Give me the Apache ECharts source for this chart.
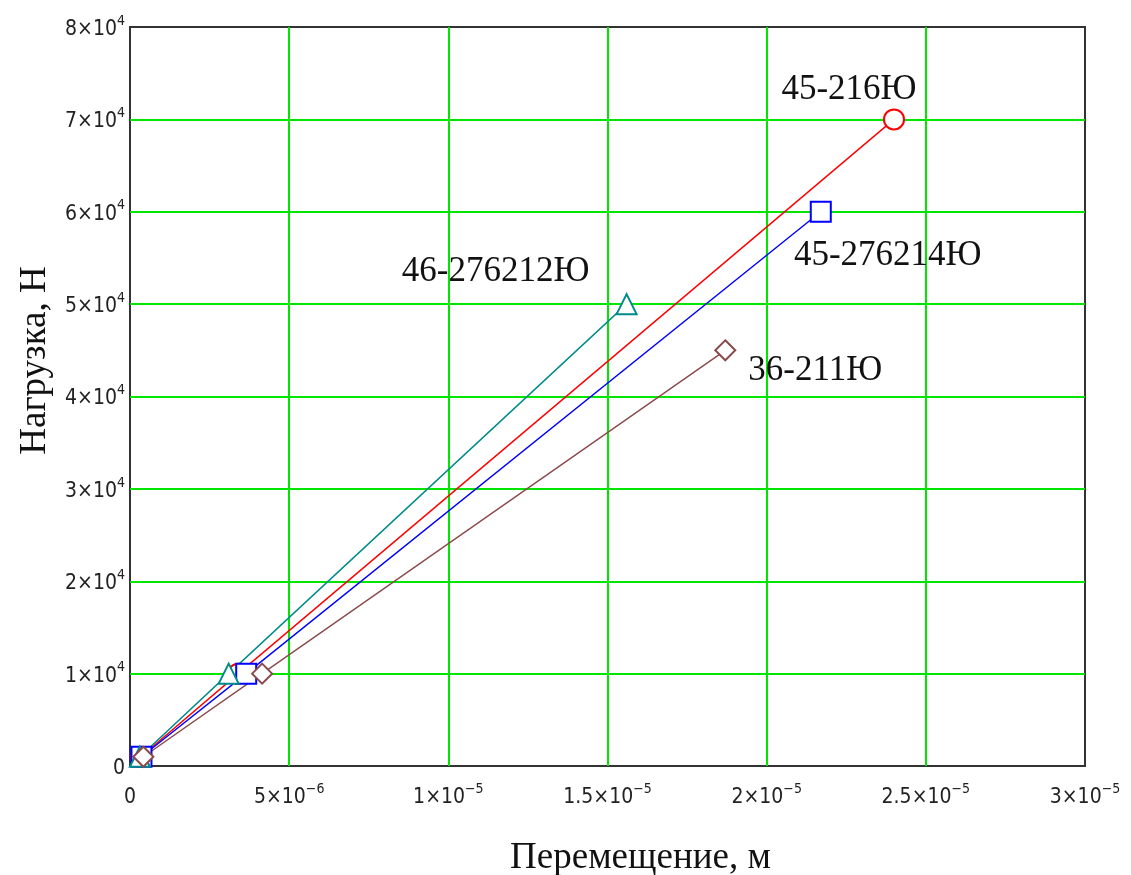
<!DOCTYPE html>
<html>
<head>
<meta charset="utf-8">
<script src="https://cdn.jsdelivr.net/npm/echarts@6/dist/echarts.min.js"></script>
<style>
  html, body { margin: 0; padding: 0; background: #fff; }
  #main { width: 1131px; height: 875px; }
</style>
</head>
<body>
<div id="main"></div>
<script>
const chartDom = document.getElementById('main');
const myChart = echarts.init(chartDom);

// Перемещение, м  /  Нагрузка, Н
const names = ['45-216Ю', '45-276214Ю', '46-276212Ю', '36-211Ю'];
const load = [1000, 10000];
const loadEnd = [70000, 60000, 50000, 45000];
const disp216 = [3.4e-7, 3.4e-6, 2.4e-5];
const disp276214 = [3.6e-7, 3.65e-6, 2.17e-5];
const disp276212 = [3.1e-7, 3.1e-6, 1.56e-5];
const disp211 = [4.2e-7, 4.15e-6, 1.87e-5];

// tick labels: mantissa and exponent
const xTickMant = ['0', '5', '1', '1.5', '2', '2.5', '3'];
const xTickExp = ['', '\u22126', '\u22125', '\u22125', '\u22125', '\u22125', '\u22125'];
const yTickMant = ['0', '1', '2', '3', '4', '5', '6', '7', '8'];
const yTickExp = ['', '4', '4', '4', '4', '4', '4', '4', '4'];

const colors = ['#ff0000', '#0000ff', '#008b8b', '#8b4a4a'];
const symbols = ['emptyCircle', 'emptyRect', 'emptyTriangle', 'emptyDiamond'];
const labelOffsets = [[-45, -30], [67, 44], [-131, -32], [90, 20]];

const allDisp = [disp216, disp276214, disp276212, disp211];

const tickFont = '"Liberation Sans Narrow", "DejaVu Sans Condensed", "DejaVu Sans", sans-serif';
const tickRich = {
    m: { fontFamily: tickFont, fontSize: 21, color: '#222', verticalAlign: 'bottom', lineHeight: 26 },
    s: { fontFamily: tickFont, fontSize: 14, color: '#222', verticalAlign: 'top', lineHeight: 26 }
};

function tickText(mant, exp) {
    if (!exp) return '{m|' + mant + '}';
    return '{m|' + mant + '\u00d710}{s|' + exp + '}';
}

const series = allDisp.map(function (disp, i) {
    const ys = [load[0], load[1], loadEnd[i]];
    const data = disp.map(function (x, k) {
        if (k === disp.length - 1) {
            return {
                value: [x, ys[k]],
                label: {
                    show: true,
                    position: 'inside',
                    offset: labelOffsets[i],
                    formatter: names[i],
                    fontFamily: 'Liberation Serif',
                    fontSize: 35,
                    color: '#111'
                }
            };
        }
        return [x, ys[k]];
    });
    return {
        name: names[i],
        type: 'line',
        symbol: symbols[i],
        symbolSize: 20,
        showAllSymbol: true,
        lineStyle: { color: colors[i], width: 1.4 },
        itemStyle: { color: colors[i], borderWidth: 1.6 },
        emphasis: { disabled: true },
        data: data
    };
});

const option = {
    backgroundColor: '#fff',
    animation: false,
    grid: {
        left: 130,
        right: 46,
        top: 27,
        bottom: 109,
        outerBoundsMode: 'none',
        show: true,
        borderColor: '#333',
        borderWidth: 2
    },
    xAxis: {
        type: 'value',
        min: 0,
        max: 3e-5,
        interval: 5e-6,
        name: 'Перемещение, м',
        nameLocation: 'middle',
        nameGap: 74,
        nameTextStyle: {
            fontFamily: 'Liberation Serif',
            fontSize: 37,
            color: '#111',
            padding: [0, 0, 0, 66]
        },
        axisLine: { show: false },
        axisTick: { show: false },
        splitLine: { show: true, showMinLine: false, showMaxLine: false, lineStyle: { color: '#00e600', width: 2 } },
        axisLabel: {
            margin: 16,
            formatter: function (v) {
                const k = Math.round(v / 5e-6);
                return tickText(xTickMant[k], xTickExp[k]);
            },
            rich: tickRich
        }
    },
    yAxis: {
        type: 'value',
        min: 0,
        max: 80000,
        interval: 10000,
        name: 'Нагрузка, Н',
        nameLocation: 'middle',
        nameGap: 67,
        nameTextStyle: {
            fontFamily: 'Liberation Serif',
            fontSize: 37,
            color: '#111',
            padding: [0, 0, 0, 72]
        },
        axisLine: { show: false },
        axisTick: { show: false },
        splitLine: { show: true, showMinLine: false, showMaxLine: false, lineStyle: { color: '#00e600', width: 2 } },
        axisLabel: {
            margin: 5,
            formatter: function (v) {
                const k = Math.round(v / 10000);
                return tickText(yTickMant[k], yTickExp[k]);
            },
            rich: tickRich
        }
    },
    series: series
};

myChart.setOption(option);
</script>
</body>
</html>
